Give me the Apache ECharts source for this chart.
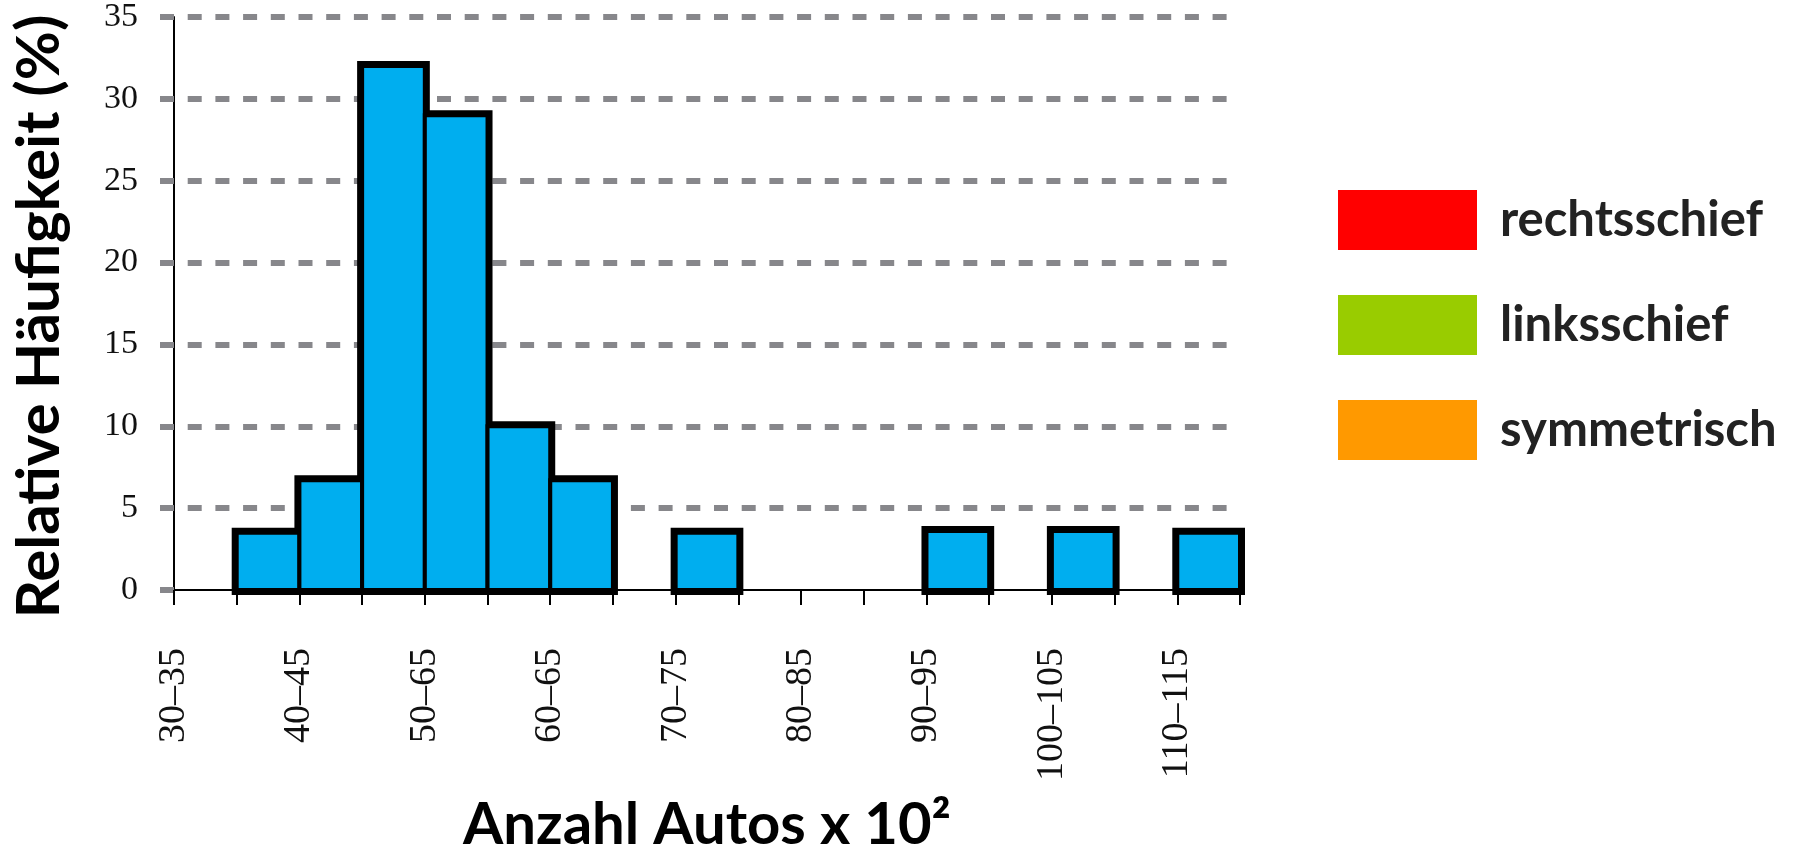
<!DOCTYPE html>
<html>
<head>
<meta charset="utf-8">
<title>Relative Häufigkeit</title>
<script src="https://cdn.jsdelivr.net/npm/echarts@6/dist/echarts.min.js"></script>
<style>
  html, body { margin: 0; padding: 0; background: #fff; }
  #chart { width: 1801px; height: 856px; }
</style>
</head>
<body>
<div id="chart"></div>
<script>
// histogram bins (lower edge, x 10^2 cars) and relative frequency in %
const binStarts = [35, 40, 45, 50, 55, 60, 70, 90, 100, 110];
const binWidth = 5;
const relFreq = [3.5, 6.7, 32, 29, 10, 6.7, 3.5, 3.6, 3.6, 3.5];

// labels as printed under every second tick (30, 40, ... 110)
const tickLabels = ['30–35', '40–45', '50–65', '60–65', '70–75', '80–85', '90–95', '100–105', '110–115'];

const legendNames = ['rechtsschief', 'linksschief', 'symmetrisch'];
const legendColors = ['#ff0000', '#99cc00', '#ff9900'];

const BAR_FILL = '#00aeef';
const GRID_GREY = '#87878b';
const SANS = 'Lato, "Open Sans", sans-serif';
const SERIF = '"Liberation Serif", "DejaVu Serif", serif';

const binData = binStarts.map((s, i) => [s, s + binWidth, relFreq[i]]);

function binRect(api) {
    const tl = api.coord([api.value(0), api.value(2)]);
    const br = api.coord([api.value(1), 0]);
    return { x: tl[0], y: tl[1], width: br[0] - tl[0], height: br[1] - tl[1] };
}

const chart = echarts.init(document.getElementById('chart'), null, { renderer: 'canvas' });

chart.setOption({
    animation: false,
    backgroundColor: '#fff',
    grid: { left: 174, right: 561, top: 17, bottom: 266, containLabel: false, outerBoundsMode: 'none' },
    legend: {
        data: legendNames.map(n => ({ name: n, icon: 'rect' })),
        orient: 'vertical',
        left: 1338,
        top: 190,
        padding: 0,
        itemWidth: 139,
        itemHeight: 60,
        itemGap: 45,
        selectedMode: false,
        textStyle: {
            fontFamily: SANS,
            fontWeight: 'bold',
            fontSize: 49,
            color: '#222',
            padding: [0, 0, 0, 18]
        }
    },
    xAxis: {
        type: 'value',
        min: 30,
        max: 115,
        interval: 5,
        name: 'Anzahl Autos x 10²',
        nameLocation: 'middle',
        nameGap: 206,
        nameTextStyle: {
            fontFamily: SANS,
            fontWeight: 'bold',
            fontSize: 58,
            color: '#000'
        },
        splitLine: { show: false },
        axisLine: { show: true, onZero: false, lineStyle: { color: '#000', width: 2 } },
        axisTick: { show: true, length: 15, lineStyle: { color: '#000', width: 2 } },
        axisLabel: {
            rotate: 90,
            margin: 58,
            fontFamily: SERIF,
            fontSize: 38,
            color: '#111',
            showMaxLabel: true,
            formatter: v => (v % 10 === 0 ? (tickLabels[(v - 30) / 10] || '') : '')
        }
    },
    yAxis: {
        type: 'value',
        min: 0,
        max: 35,
        interval: 5,
        name: 'Relative Häufigkeit (%)',
        nameLocation: 'middle',
        nameRotate: 90,
        nameGap: 104,
        nameTextStyle: {
            fontFamily: SANS,
            fontWeight: 'bold',
            fontSize: 60,
            lineHeight: 60,
            color: '#000',
            padding: [0, 26, 0, 0]
        },
        axisLine: { show: true, lineStyle: { color: '#000', width: 2 } },
        axisTick: { show: true, length: 14, lineStyle: { color: GRID_GREY, width: 6 } },
        axisLabel: {
            margin: 36,
            fontFamily: SERIF,
            fontSize: 34,
            color: '#111'
        },
        splitLine: {
            show: true,
            showMinLine: false,
            lineStyle: { color: GRID_GREY, width: 6, type: [14, 13.7], dashOffset: 14 }
        }
    },
    series: [
        // thick black outline drawn first, so that only the outer edge stays heavy
        {
            type: 'custom',
            name: 'outline',
            z: 3,
            data: binData,
            encode: { x: [0, 1], y: 2 },
            renderItem: (params, api) => ({
                type: 'rect',
                shape: binRect(api),
                style: { fill: '#000', stroke: '#000', lineWidth: 10 }
            })
        },
        {
            type: 'custom',
            name: 'bins',
            z: 4,
            data: binData,
            encode: { x: [0, 1], y: 2 },
            renderItem: (params, api) => ({
                type: 'rect',
                shape: binRect(api),
                style: { fill: BAR_FILL, stroke: '#000', lineWidth: 4 }
            })
        },
        // legend-only entries
        ...legendNames.map((n, i) => ({
            type: 'bar',
            name: n,
            data: [],
            itemStyle: { color: legendColors[i] }
        }))
    ]
});
</script>
</body>
</html>
